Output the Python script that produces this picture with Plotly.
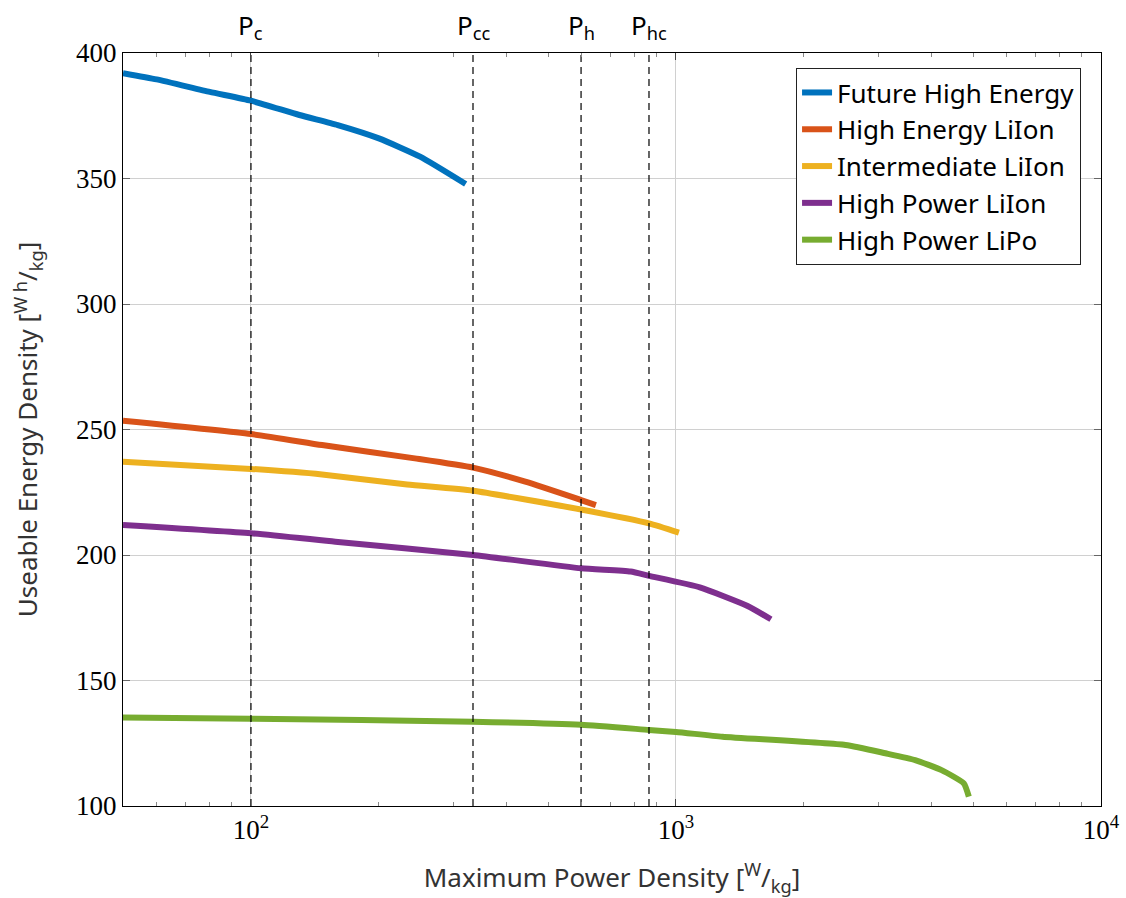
import numpy as np
import plotly.graph_objects as go

# Ragone-type curves: maximum power density [W/kg] vs useable energy density [Wh/kg]
future_he_x = [50, 60, 80, 100, 130, 160, 200, 250, 320]
future_he_y = [392, 389.5, 384.5, 381, 375.3, 371.3, 366, 358.7, 347.8]

he_liion_x = [50, 100, 147, 243, 333, 442, 598, 648]
he_liion_y = [253.5, 248.2, 243.8, 238.5, 234.8, 229.2, 221.9, 219.9]

int_liion_x = [50, 100, 147, 233, 333, 598, 864, 1016]
int_liion_y = [237.2, 234.3, 232.1, 228.1, 225.6, 218.1, 212.6, 208.9]

hp_liion_x = [50, 100, 158, 333, 598, 782, 864, 1138, 1474, 1673]
hp_liion_y = [212, 208.7, 205.3, 200, 194.7, 193.4, 191.7, 187.1, 179.7, 174.4]

hp_lipo_x = [50, 100, 333, 598, 864, 1000, 1287, 2505, 3112, 3654, 4216, 4756, 4887]
hp_lipo_y = [135.3, 134.8, 133.6, 132.4, 130.3, 129.5, 127.6, 124.3, 121.0, 118.3, 114.3, 109.0, 103.7]

series_names = ["Future High Energy", "High Energy LiIon", "Intermediate LiIon",
                "High Power LiIon", "High Power LiPo"]
series_x = [future_he_x, he_liion_x, int_liion_x, hp_liion_x, hp_lipo_x]
series_y = [future_he_y, he_liion_y, int_liion_y, hp_liion_y, hp_lipo_y]
colors = ["#0072BD", "#D95319", "#EDB120", "#7E2F8E", "#77AC30"]

# Reference power levels marked by dashed lines
marker_labels = ["P<sub>c</sub>", "P<sub>cc</sub>", "P<sub>h</sub>", "P<sub>hc</sub>"]
marker_x = [100, 333, 598, 864]

x_tick_vals = [100, 1000, 10000]
x_tick_text = ["10<sup>2</sup>", "10<sup>3</sup>", "10<sup>4</sup>"]
y_tick_vals = [100, 150, 200, 250, 300, 350, 400]

sans = "Noto Sans, DejaVu Sans, sans-serif"
serif = "Liberation Serif, DejaVu Serif, serif"

fig = go.Figure()
for name, xs, ys, c in zip(series_names, series_x, series_y, colors):
    fig.add_trace(go.Scatter(x=xs, y=ys, mode="lines", name=name,
                             line=dict(color=c, width=6, shape="spline", smoothing=0.5)))

for xv in marker_x:
    fig.add_trace(go.Scatter(x=[xv, xv], y=[100, 400], mode="lines",
                             showlegend=False, hoverinfo="skip",
                             line=dict(color="black", width=1.2, dash="7px,5px")))

for lab, xv in zip(marker_labels, marker_x):
    fig.add_annotation(x=np.log10(xv), y=1, xref="x", yref="paper",
                       yanchor="bottom", showarrow=False, yshift=6,
                       text=lab, font=dict(family=sans, size=26, color="black"))

minor_vals = [m * 10 ** e for e in (1, 2, 3) for m in range(2, 10)]

fig.update_xaxes(type="log", range=[np.log10(50), 4], automargin=False,
                 tickvals=x_tick_vals, ticktext=x_tick_text,
                 ticks="inside", ticklen=7, tickcolor="#444",
                 minor=dict(tickvals=minor_vals, ticks="inside", ticklen=4,
                            tickcolor="#888", showgrid=False),
                 showgrid=True, gridcolor="#d0d0d0", gridwidth=1,
                 showline=True, linecolor="black", linewidth=1, mirror="ticks",
                 zeroline=False,
                 tickfont=dict(family=serif, size=27, color="black"),
                 title=dict(text="Maximum Power Density [<sup>W</sup>/<sub>kg</sub>]",
                            font=dict(family=sans, size=26, color="#333"),
                            standoff=24))

fig.update_yaxes(range=[100, 400], tickvals=y_tick_vals, automargin=False,
                 ticks="inside", ticklen=7, tickcolor="#666",
                 showgrid=True, gridcolor="#d0d0d0", gridwidth=1,
                 showline=True, linecolor="black", linewidth=1, mirror="ticks",
                 zeroline=False,
                 tickfont=dict(family=serif, size=27, color="black"),
                 title=dict(text="Useable Energy Density [<sup>W h</sup>/<sub>kg</sub>]",
                            font=dict(family=sans, size=26, color="#333"),
                            standoff=30))

fig.update_layout(
    width=1126, height=898,
    margin=dict(l=123, r=25, t=53, b=92),
    plot_bgcolor="white", paper_bgcolor="white",
    showlegend=True,
    legend=dict(x=0.9796, y=0.98, xanchor="right", yanchor="top",
                bgcolor="white", bordercolor="#222", borderwidth=1,
                font=dict(family=sans, size=26, color="black")),
)

fig.write_html("out.html")
